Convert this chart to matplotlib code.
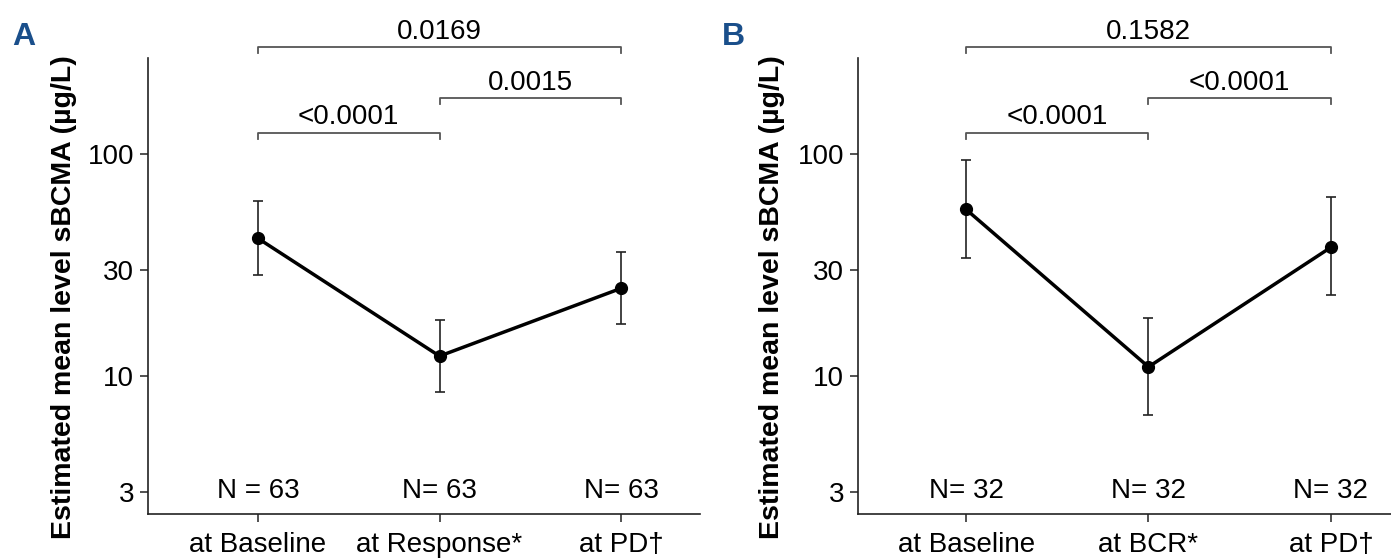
import numpy as np
import matplotlib
matplotlib.use("Agg")
import matplotlib.pyplot as plt

plt.rcParams["font.family"] = ["Liberation Sans", "DejaVu Sans"]

# Panel A: all responders
a_labels = ["at Baseline", "at Response*", "at PD\u2020"]
a_mean = [41.6, 12.3, 24.8]
a_low = [28.4, 8.5, 17.1]
a_high = [61.0, 17.8, 36.0]
a_n = ["N = 63", "N= 63", "N= 63"]
a_pvals = ["0.0169", "0.0015", "<0.0001"]

# Panel B: BCR subgroup
b_labels = ["at Baseline", "at BCR*", "at PD\u2020"]
b_mean = [56.1, 11.0, 37.9]
b_low = [33.8, 6.7, 23.1]
b_high = [94.0, 18.2, 63.5]
b_n = ["N= 32", "N= 32", "N= 32"]
b_pvals = ["0.1582", "<0.0001", "<0.0001"]

YTICKS = [3, 10, 30, 100]
BLUE = "#1a4f8b"
FS = 20

W, H = 1391, 559
fig = plt.figure(figsize=(W / 100, H / 100), dpi=100)


def px_axes(x0, x1, y0, y1):
    return fig.add_axes([x0 / W, 1 - y1 / H, (x1 - x0) / W, (y1 - y0) / H])


def draw_panel(ax, labels, mean, low, high, nlab, pvals, xlim):
    x = np.arange(1, len(mean) + 1)
    mean = np.array(mean)
    yerr = [mean - np.array(low), np.array(high) - mean]
    ax.errorbar(x, mean, yerr=yerr, fmt="none", ecolor="#222222",
                elinewidth=1.2, capsize=3.8, capthick=1.2, zorder=2)
    ax.plot(x, mean, color="black", lw=2.5, marker="o", ms=8.5, zorder=3)

    ax.set_yscale("log")
    ax.set_ylim(2.4, 269)
    ax.set_xlim(*xlim)
    ax.set_yticks(YTICKS)
    ax.set_yticklabels([str(t) for t in YTICKS])
    ax.minorticks_off()
    ax.set_xticks(x)
    ax.set_xticklabels(labels)
    ax.tick_params(labelsize=FS, length=6, width=1.1, color="#222222", pad=4)
    ax.tick_params(axis="x", pad=7)
    for side in ["top", "right"]:
        ax.spines[side].set_visible(False)
    for side in ["left", "bottom"]:
        ax.spines[side].set_linewidth(1.2)
        ax.spines[side].set_color("#222222")

    for xi, t in zip(x, nlab):
        ax.text(xi, 3.05, t, ha="center", va="center", fontsize=FS)

    # significance brackets: (x start, x end, bracket y, text y), y in axes fraction
    tr = ax.get_xaxis_transform()
    brackets = [(1, 3, 1.024, 1.057), (2, 3, 0.912, 0.945), (1, 2, 0.835, 0.870)]
    for (xa, xb, yb, yt), p in zip(brackets, pvals):
        ax.plot([xa, xa, xb, xb], [yb - 0.012, yb, yb, yb - 0.012], color="#555555",
                lw=1.3, transform=tr, clip_on=False)
        ax.text((xa + xb) / 2, yt, p, ha="center", va="center", fontsize=FS,
                transform=tr, clip_on=False)


ax_a = px_axes(148, 700, 58, 514)
draw_panel(ax_a, a_labels, a_mean, a_low, a_high, a_n, a_pvals, (0.394, 3.435))
ax_b = px_axes(858, 1391, 58, 514)
draw_panel(ax_b, b_labels, b_mean, b_low, b_high, b_n, b_pvals, (0.407, 3.33))

ylab = "Estimated mean level sBCMA (\u00b5g/L)"
for xc in [64, 772]:
    fig.text(xc / W, 1 - 297 / H, ylab, rotation=90, ha="center", va="center",
             fontsize=20.5, fontweight="bold")

for xc, letter in [(23.5, "A"), (733, "B")]:
    fig.text(xc / W, 1 - 37 / H, letter, ha="center", va="center", fontsize=23,
             fontweight="bold", color=BLUE)

fig.savefig("out.png", dpi=100)
